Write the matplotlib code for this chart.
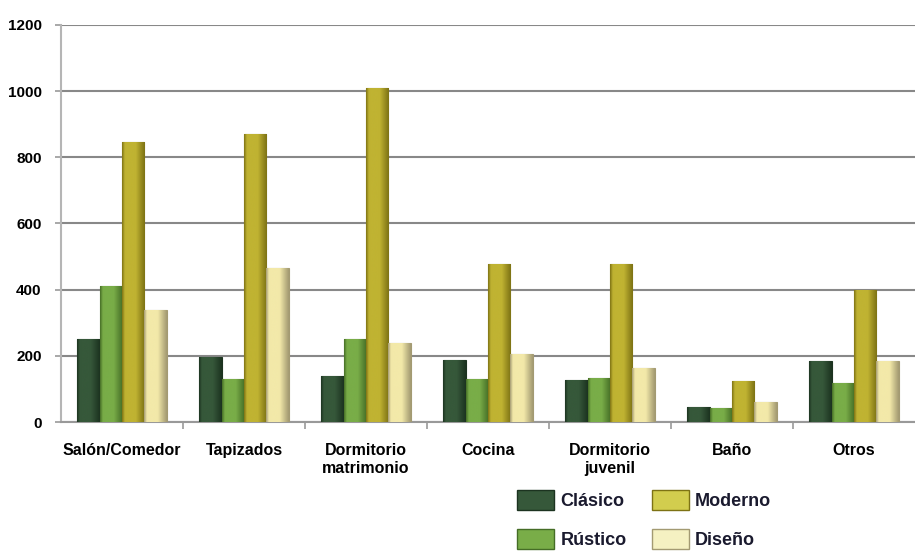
import numpy as np
import matplotlib
matplotlib.use("Agg")
import matplotlib.pyplot as plt
from matplotlib.colors import LinearSegmentedColormap

plt.rcParams['font.family'] = ['Liberation Sans', 'DejaVu Sans']

categories = ['Salón/Comedor', 'Tapizados', 'Dormitorio\nmatrimonio', 'Cocina',
              'Dormitorio\njuvenil', 'Baño', 'Otros']
clasico = [250, 195, 140, 187, 127, 45, 184]
rustico = [410, 130, 250, 130, 133, 42, 118]
moderno = [845, 870, 1010, 477, 477, 124, 399]
diseno = [340, 465, 240, 205, 163, 60, 184]

series = [('Clásico', clasico), ('Rústico', rustico), ('Moderno', moderno), ('Diseño', diseno)]
# base colour, dark edge colour, legend colour
styles = {
    'Clásico': ('#36583a', '#1c3320', '#36583a'),
    'Rústico': ('#79ad48', '#456d26', '#79ad48'),
    'Moderno': ('#c0b332', '#7d7214', '#d2cd4e'),
    'Diseño': ('#f3e9a9', '#a39a72', '#f5f1c2'),
}

fig = plt.figure(figsize=(9.15, 5.52), dpi=100)
ax = fig.add_axes([61 / 915, 1 - 422 / 552, 1 - 61 / 915, (422 - 25) / 552])

x = np.arange(len(categories))
w = 0.183
handles = []
for i, (name, vals) in enumerate(series):
    base, dark, leg = styles[name]
    bars = ax.bar(x + (i - 1.5) * w, vals, w, color=base, edgecolor=dark,
                  linewidth=0.8, zorder=3)
    cmap = LinearSegmentedColormap.from_list(
        name, [(0, dark), (0.12, base), (0.6, base), (1.0, dark)])
    grad = np.linspace(0, 1, 64).reshape(1, -1)
    for b in bars:
        im = ax.imshow(grad, extent=(b.get_x(), b.get_x() + b.get_width(), 0, b.get_height()),
                       cmap=cmap, aspect='auto', zorder=3.5, interpolation='bicubic')
        im.set_clip_path(b)
    handles.append(plt.Rectangle((0, 0), 1, 1, facecolor=leg, edgecolor=dark, linewidth=1))

ax.set_xlim(-0.5, len(categories) - 0.5)
ax.set_ylim(0, 1200)
ax.set_yticks(np.arange(0, 1201, 200))
ax.yaxis.grid(True, color='#888888', linewidth=1.5, zorder=0)
ax.set_axisbelow(True)

ax.set_xticks(np.arange(0.5, len(categories) - 0.5, 1))
ax.set_xticklabels([])
ax.set_xticks(x, minor=True)
ax.set_xticklabels(categories, minor=True, fontsize=11.5, fontweight='bold', linespacing=1.3)
ax.tick_params(axis='x', which='minor', length=0, pad=15)
ax.tick_params(axis='x', which='major', length=5, color='#999999', width=1.2)
ax.tick_params(axis='y', length=4, color='#999999', width=1.2, pad=10)
for lbl in ax.get_yticklabels():
    lbl.set_fontsize(11)
    lbl.set_fontweight('bold')

for s in ['top', 'right']:
    ax.spines[s].set_visible(False)
ax.spines['left'].set_color('#b5b5b5')
ax.spines['left'].set_linewidth(1.5)
ax.spines['bottom'].set_color('#999999')
ax.spines['bottom'].set_linewidth(1.5)

fig.legend(handles, [s[0] for s in series], ncol=2, frameon=False,
           loc='upper left', bbox_to_anchor=(517 / 915, 1 - 490 / 552),
           borderpad=0, borderaxespad=0, handlelength=2.05, handleheight=1.33,
           handletextpad=0.35, columnspacing=1.4, labelspacing=1.05,
           prop={'size': 13, 'weight': 'bold'}, labelcolor='#1a1a2e')

fig.savefig('out.png', dpi=100)
